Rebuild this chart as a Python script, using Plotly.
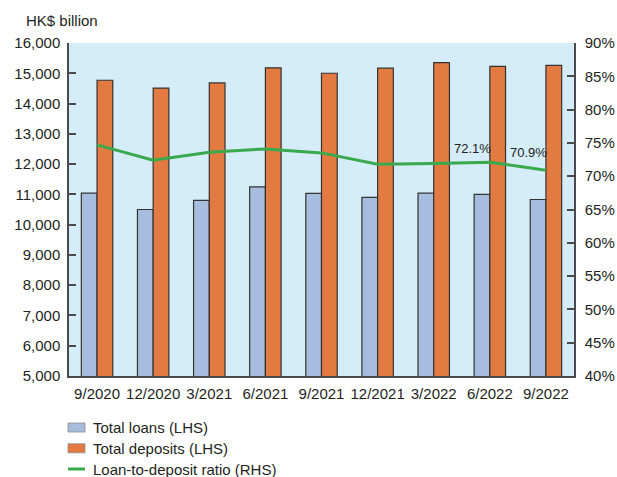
import plotly.graph_objects as go

# Quarter-end periods
periods = ["9/2020", "12/2020", "3/2021", "6/2021", "9/2021",
           "12/2021", "3/2022", "6/2022", "9/2022"]

# HK$ billion (left axis)
total_loans = [11040, 10500, 10800, 11250, 11030, 10900, 11040, 11000, 10830]
total_deposits = [14770, 14510, 14680, 15180, 15000, 15170, 15350, 15230, 15260]

# Loan-to-deposit ratio, % (right axis)
ld_ratio = [74.7, 72.4, 73.6, 74.1, 73.5, 71.8, 71.9, 72.1, 70.9]

# Points that carry a value label
labelled_idx = [7, 8]
label_yshift = [14, 18]

FONT = "Liberation Sans, Arial, sans-serif"
TXT = "#231f20"
AXIS = "#4a4a4a"
LOAN_C = "#a7bddd"
DEP_C = "#e37a41"
LINE_C = "#3aa94d"
BG_C = "#d5ecf9"

W, H = 617, 477
ML, MR, MT, MB = 69, 43, 43, 101
pw, ph = W - ML - MR, H - MT - MB


def px(x):
    return (x - ML) / pw


def py(y):
    return (H - MB - y) / ph


fig = go.Figure()
fig.add_trace(go.Bar(
    x=periods, y=total_loans, name="Total loans (LHS)",
    marker=dict(color=LOAN_C, line=dict(color="#333333", width=1.2)),
    showlegend=False,
))
fig.add_trace(go.Bar(
    x=periods, y=total_deposits, name="Total deposits (LHS)",
    marker=dict(color=DEP_C, line=dict(color="#333333", width=1.2)),
    showlegend=False,
))
fig.add_trace(go.Scatter(
    x=periods, y=ld_ratio, name="Loan-to-deposit ratio (RHS)",
    mode="lines", line=dict(color=LINE_C, width=3),
    yaxis="y2", showlegend=False,
))

annotations = []
for i, ys in zip(labelled_idx, label_yshift):
    annotations.append(dict(
        x=periods[i], y=ld_ratio[i], xref="x", yref="y2",
        text=f"{ld_ratio[i]:.1f}%", showarrow=False,
        xanchor="right", yanchor="middle", xshift=3, yshift=ys,
        font=dict(family=FONT, size=13, color=TXT),
    ))

# Axis unit caption
annotations.append(dict(
    x=px(24), y=py(21), xref="paper", yref="paper", text="HK$ billion",
    showarrow=False, xanchor="left", yanchor="middle",
    font=dict(family=FONT, size=15, color=TXT),
))

# Legend drawn below the plot area
legend_items = [
    ("Total loans (LHS)", "bar", LOAN_C),
    ("Total deposits (LHS)", "bar", DEP_C),
    ("Loan-to-deposit ratio (RHS)", "line", LINE_C),
]
shapes = []
row_y = [427.5, 448.3, 469.0]
for (label, kind, color), yc in zip(legend_items, row_y):
    if kind == "bar":
        shapes.append(dict(
            type="rect", xref="paper", yref="paper",
            x0=px(68), x1=px(85), y0=py(yc + 4.5), y1=py(yc - 4.5),
            fillcolor=color, line=dict(color="#8a8a8a", width=0.8),
        ))
    else:
        shapes.append(dict(
            type="line", xref="paper", yref="paper",
            x0=px(68), x1=px(85), y0=py(yc), y1=py(yc),
            line=dict(color=color, width=3),
        ))
    annotations.append(dict(
        x=px(91), y=py(yc), xref="paper", yref="paper", text=label,
        showarrow=False, xanchor="left", yanchor="middle",
        font=dict(family=FONT, size=15, color=TXT),
    ))

fig.update_layout(
    width=W, height=H,
    margin=dict(l=ML, r=MR, t=MT, b=MB, pad=0, autoexpand=False),
    paper_bgcolor="white", plot_bgcolor=BG_C,
    barmode="group", bargap=0.44, bargroupgap=0,
    font=dict(family=FONT, size=15, color=TXT),
    xaxis=dict(
        showline=True, linecolor=AXIS, linewidth=1.5, ticks="",
        showgrid=False, tickfont=dict(size=15, color=TXT),
        ticklabelstandoff=3, automargin=False,
    ),
    yaxis=dict(
        range=[5000, 16000], dtick=1000, tickformat=",",
        showgrid=False, zeroline=False,
        showline=True, linecolor=AXIS, linewidth=1.5,
        ticks="inside", ticklen=7, tickcolor=AXIS, tickwidth=1.5,
        tickfont=dict(size=15, color=TXT), ticklabelstandoff=4,
        automargin=False,
    ),
    yaxis2=dict(
        range=[40, 90], dtick=5, ticksuffix="%",
        overlaying="y", side="right",
        showgrid=False, zeroline=False,
        showline=True, linecolor=AXIS, linewidth=1.5,
        ticks="inside", ticklen=7, tickcolor=AXIS, tickwidth=1.5,
        tickfont=dict(size=15, color=TXT), ticklabelstandoff=6,
        automargin=False,
    ),
    annotations=annotations,
    shapes=shapes,
)

fig.write_html("out.html")
